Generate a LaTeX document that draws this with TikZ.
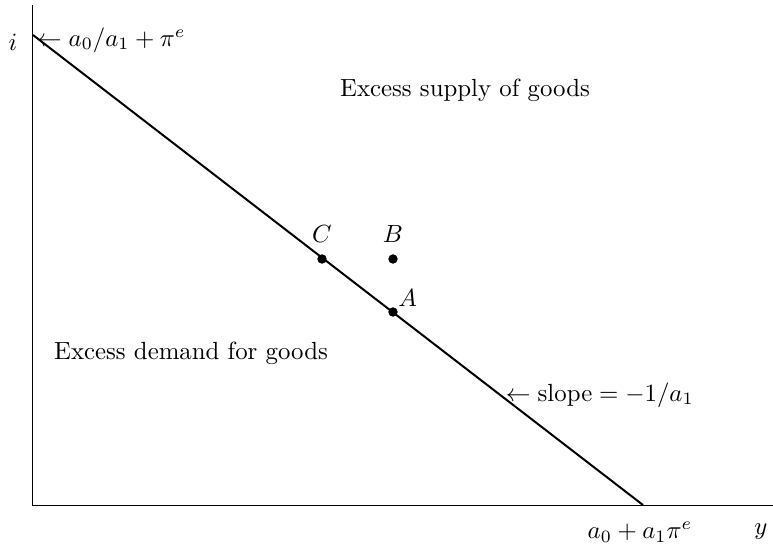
\documentclass[tikz,border=0pt]{standalone}
\usepackage{amsmath}
\usepackage{amssymb}
\usepackage{tikz}
\usetikzlibrary{positioning}

\begin{document}
\begin{tikzpicture}[x=0.403pt,y=-0.403pt]
            \useasboundingbox (0,0) rectangle (773,548);
            \tikzset{pt/.style={circle, fill, inner sep=0pt, minimum size=3.8pt}}
            \coordinate (o) at (32,505);
            \coordinate (top) at (32,5);
            \coordinate (right) at (773,505);
            \coordinate (icept) at (33,35);
            \coordinate (ycept) at (643,505);
            \node[pt] (c) at (322,259) {};
            \node[pt] (b) at (393,259) {};
            \node[pt] (a) at (393,312) {};
            \draw[thin] (top) -- (o) -- (right);
            \draw[thick] (icept) -- (ycept);
            \node (ilab) at (13,42) {$i$};
            \node (ylab) at (761,532) {$y$};
            \node[anchor=west, inner sep=1pt] (top lab) at (34,40) {$\leftarrow a_0/a_1 + \pi^e$};
            \node (bottom lab) at (640,532) {$a_0 + a_1\pi^e$};
            \node[anchor=west, inner sep=1pt] (slope) at (503,395) {$\leftarrow \text{slope} = -1/a_1$};
            \node (supply) at (465,90) {Excess supply of goods};
            \node (demand) at (191,353) {Excess demand for goods};
            \node[above=1pt of c] (clab) {$C$};
            \node[above=1pt of b] (blab) {$B$};
            \node[anchor=south west, inner sep=0.5pt] (alab) at (a.north east) {$A$};
        \end{tikzpicture}
\end{document}
